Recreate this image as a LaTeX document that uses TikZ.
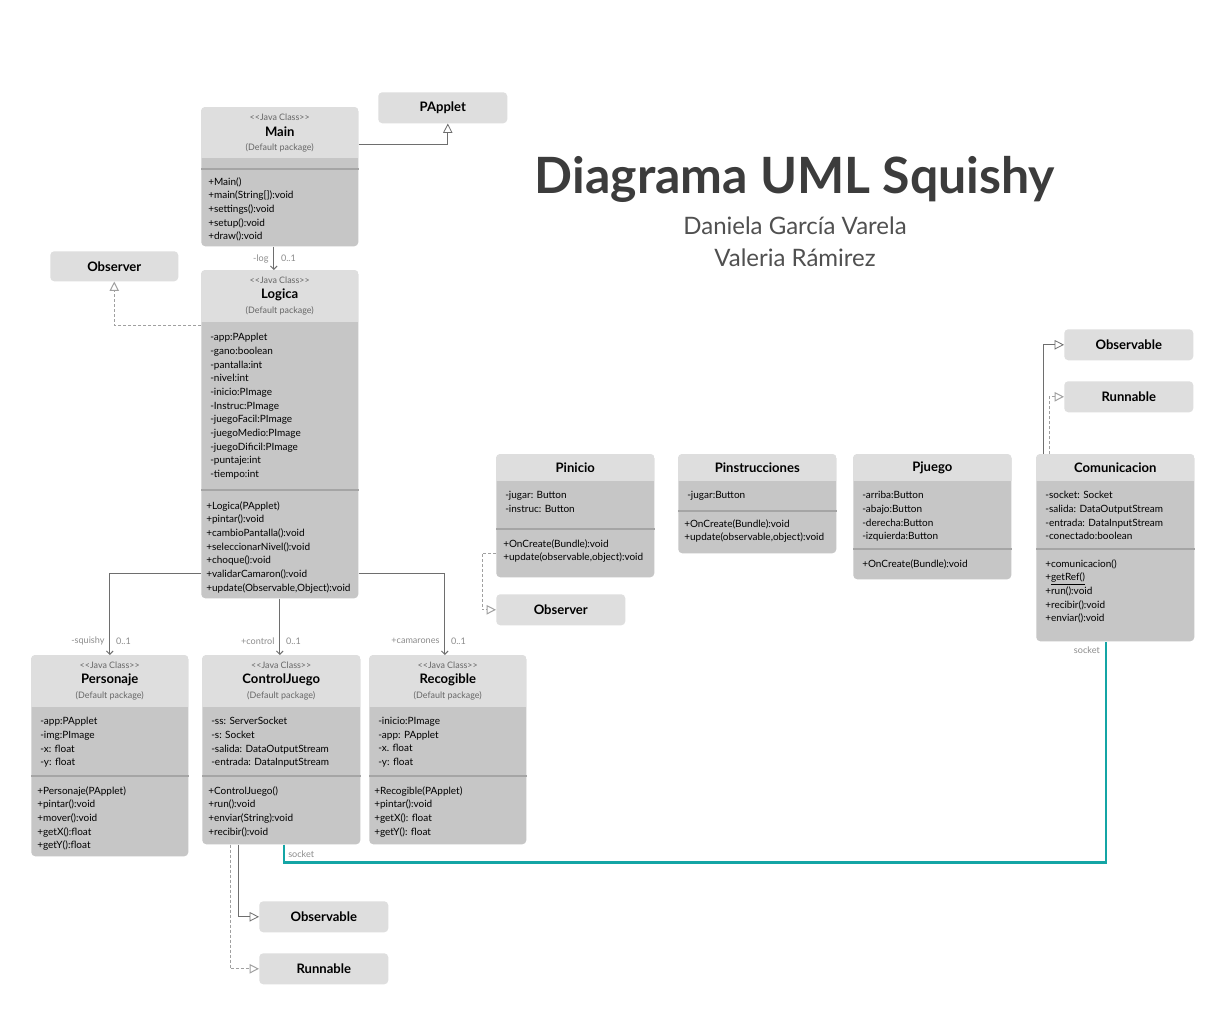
\documentclass[tikz,border=0pt]{standalone}
\usepackage{fontspec}
\setmainfont{Lato}
\usetikzlibrary{arrows.meta,calc}

\definecolor{headgray}{HTML}{DEDEDE}
\definecolor{bodygray}{HTML}{C6C6C6}
\definecolor{rulegray}{HTML}{A5A5A5}
\definecolor{linkgray}{HTML}{6E6E6E}
\definecolor{dashgray}{HTML}{A0A0A0}
\definecolor{labelgray}{HTML}{8C8C8C}
\definecolor{socketteal}{HTML}{14A5A5}
\definecolor{titlegray}{HTML}{3C3C3C}

\newcommand{\pxu}{0.75pt}

% class box: name, x, y, width, height, header height, separator offset
\newcommand{\umlclass}[7]{%
  \node[classbody, minimum width=#4*\pxu, minimum height=#5*\pxu] (#1) at (#2,#3) {};
  \begin{scope}
    \clip[rounded corners=3pt] (#1.north west) rectangle (#1.south east);
    \fill[headgray] (#1.north west) rectangle ($(#1.north east)+(0,#6)$);
  \end{scope}
  \draw[seprule] ($(#1.north west)+(0,#7)$) -- ($(#1.north east)+(0,#7)$);
}
% header with stereotype and package
\newcommand{\javahead}[2]{%
  \node[stereo] (#1-st) at ($(#1.north)+(0,10)$) {<\kern0pt<Java Class>\kern0pt>};
  \node[cname] (#1-t) at ($(#1.north)+(0,25)$) {#2};
  \node[stereo] (#1-pk) at ($(#1.north)+(0,41)$) {(Default package)};
}
\newcommand{\plainhead}[2]{%
  \node[cname] (#1-t) at ($(#1.north)+(0,14)$) {#2};
}

\begin{document}
\begin{tikzpicture}[x=\pxu, y=-\pxu,
    classbody/.style={anchor=north west, fill=bodygray, rounded corners=3pt, inner sep=0pt},
    ifacebox/.style={anchor=north west, fill=headgray, rounded corners=3pt, inner sep=0pt,
      minimum width=129*\pxu, minimum height=31*\pxu, font=\fontsize{9.8}{11}\selectfont\bfseries},
    seprule/.style={rulegray, line width=1.5pt},
    stereo/.style={inner sep=0pt, text=black!60, font=\fontsize{6.7}{8}\selectfont},
    cname/.style={inner sep=0pt, font=\fontsize{9.8}{11}\selectfont\bfseries},
    members/.style={anchor=north west, align=left, inner sep=0pt, font=\fontsize{7.5}{10.27}\selectfont},
    rolelabel/.style={inner sep=0pt, text=labelgray, font=\fontsize{6.8}{8}\selectfont},
    assoc/.style={linkgray, line width=0.75pt, -{Straight Barb[length=2.5pt,width=5pt]}},
    inherit/.style={linkgray, line width=0.6pt, -{Triangle[open,length=7pt,width=7pt]}},
    realize/.style={dashgray, line width=0.75pt, dash pattern=on 2.25pt off 1.5pt,
      -{Triangle[open,length=7pt,width=7pt]}},
    socketlink/.style={socketteal, line width=2pt},
  ]
  \useasboundingbox[fill=white] (0,0) rectangle (1224,1026);

  % title
  \node[text=titlegray, font=\fontsize{37.5}{42}\selectfont\bfseries] (title) at (795,179) {Diagrama UML Squishy};
  \node[text=titlegray!90, font=\fontsize{18}{20}\selectfont] (autor1) at (795,226) {Daniela García Varela};
  \node[text=titlegray!90, font=\fontsize{18}{20}\selectfont] (autor2) at (795,258) {Valeria Rámirez};

  % interfaces and parents
  \node[ifacebox] (papplet) at (378,92) {PApplet};
  \node[ifacebox, minimum width=128*\pxu, minimum height=30*\pxu] (observerA) at (50,251) {Observer};
  \node[ifacebox] (observerB) at (496,594) {Observer};
  \node[ifacebox] (observableA) at (1064,329) {Observable};
  \node[ifacebox] (runnableA) at (1064,381) {Runnable};
  \node[ifacebox] (observableB) at (259,901) {Observable};
  \node[ifacebox] (runnableB) at (259,953) {Runnable};

  % Main
  \umlclass{main}{201}{107}{157}{139}{51}{62}
  \javahead{main}{Main}
  \node[members] (main-me) at ($(main.north west)+(7,70)$) {+Main()\\+main(String[]):void\\+settings():void\\+setup():void\\+draw():void};

  % Logica
  \umlclass{logica}{201}{270}{157}{328}{52}{220}
  \javahead{logica}{Logica}
  \node[members] (logica-at) at ($(logica.north west)+(9,63)$) {-app:PApplet\\-gano:boolean\\-pantalla:int\\-nivel:int\\-inicio:PImage\\-Instruc:PImage\\-juegoFacil:PImage\\-juegoMedio:PImage\\-juegoDificil:PImage\\-puntaje:int\\-tiempo:int};
  \node[members] (logica-me) at ($(logica.north west)+(5,231)$) {+Logica(PApplet)\\+pintar():void\\+cambioPantalla():void\\+seleccionarNivel():void\\+choque():void\\+validarCamaron():void\\+update(Observable,Object):void};

  % Personaje
  \umlclass{personaje}{31}{655}{157}{201}{52}{121}
  \javahead{personaje}{Personaje}
  \node[members] (personaje-at) at ($(personaje.north west)+(9,62)$) {-app:PApplet\\-img:PImage\\-x: float\\-y: float};
  \node[members] (personaje-me) at ($(personaje.north west)+(6,131)$) {+Personaje(PApplet)\\+pintar():void\\+mover():void\\+getX():float\\+getY():float};

  % ControlJuego
  \umlclass{control}{202}{655}{158}{189}{52}{121}
  \javahead{control}{ControlJuego}
  \node[members] (control-at) at ($(control.north west)+(9,62)$) {-ss: ServerSocket\\-s: Socket\\-salida: DataOutputStream\\-entrada: DataInputStream};
  \node[members] (control-me) at ($(control.north west)+(6,131)$) {+ControlJuego()\\+run():void\\+enviar(String):void\\+recibir():void};

  % Recogible
  \umlclass{recogible}{369}{655}{157}{189}{52}{121}
  \javahead{recogible}{Recogible}
  \node[members] (recogible-at) at ($(recogible.north west)+(9,62)$) {-inicio:PImage\\-app: PApplet\\-x. float\\-y: float};
  \node[members] (recogible-me) at ($(recogible.north west)+(5,131)$) {+Recogible(PApplet)\\+pintar():void\\+getX(): float\\+getY(): float};

  % Pinicio
  \umlclass{pinicio}{496}{454}{158}{123}{27}{75}
  \plainhead{pinicio}{Pinicio}
  \node[members] (pinicio-at) at ($(pinicio.north west)+(9,37)$) {-jugar: Button\\-instruc: Button};
  \node[members] (pinicio-me) at ($(pinicio.north west)+(7,85)$) {+OnCreate(Bundle):void\\+update(observable,object):void};

  % Pinstrucciones
  \umlclass{pinstruc}{678}{454}{158}{99}{27}{57}
  \plainhead{pinstruc}{Pinstrucciones}
  \node[members] (pinstruc-at) at ($(pinstruc.north west)+(9,37)$) {-jugar:Button};
  \node[members] (pinstruc-me) at ($(pinstruc.north west)+(6,65)$) {+OnCreate(Bundle):void\\+update(observable,object):void};

  % Pjuego
  \umlclass{pjuego}{853}{454}{158}{125}{27}{95}
  \plainhead{pjuego}{Pjuego}
  \node[members] (pjuego-at) at ($(pjuego.north west)+(9,37)$) {-arriba:Button\\-abajo:Button\\-derecha:Button\\-izquierda:Button};
  \node[members] (pjuego-me) at ($(pjuego.north west)+(9,105)$) {+OnCreate(Bundle):void};

  % Comunicacion
  \umlclass{comunica}{1036}{454}{158}{187}{27}{95}
  \plainhead{comunica}{Comunicacion}
  \node[members] (comunica-at) at ($(comunica.north west)+(9,37)$) {-socket: Socket\\-salida: DataOutputStream\\-entrada: DataInputStream\\-conectado:boolean};
  \node[members] (comunica-me) at ($(comunica.north west)+(9,105)$) {+comunicacion()\\+\underline{getRef()}\\+run():void\\+recibir():void\\+enviar():void};

  % herencia y realizaciones
  \draw[inherit] ($(main.north east)+(0,37)$) -| ($(papplet.south)+(5,0)$);
  \draw[realize] ($(logica.north west)+(0,55)$) -| (observerA.south);
  \draw[realize] ($(pinicio.north west)+(0,99)$) -- ++(-14,0) |- (observerB.west);
  \draw[inherit] ($(comunica.north west)+(7,0)$) |- (observableA.west);
  \draw[realize] ($(comunica.north west)+(13,0)$) |- (runnableA.west);
  \draw[inherit] ($(control.south west)+(36,0)$) |- (observableB.west);
  \draw[realize] ($(control.south west)+(28,0)$) |- (runnableB.west);

  % asociaciones
  \draw[assoc] ($(main.south)+(-6,0)$) coordinate (logend) -- ($(logica.north)+(-6,0)$);
  \node[rolelabel, anchor=east] (log-role) at ($(logend)+(-5,12)$) {-log};
  \node[rolelabel, anchor=west] (log-mult) at ($(logend)+(7,12)$) {0..1};

  \draw[assoc] ($(logica.north west)+(0,303)$) -| (personaje.north);
  \node[rolelabel, anchor=east] (sq-role) at ($(personaje.north)+(-5,-14)$) {-squishy};
  \node[rolelabel, anchor=west] (sq-mult) at ($(personaje.north)+(6,-14)$) {0..1};

  \draw[assoc] (logica.south) -- (logica.south |- control.north);
  \node[rolelabel, anchor=east] (ctl-role) at ($(logica.south |- control.north)+(-5,-14)$) {+control};
  \node[rolelabel, anchor=west] (ctl-mult) at ($(logica.south |- control.north)+(6,-14)$) {0..1};

  \draw[assoc] ($(logica.north east)+(0,303)$) -| ($(recogible.north)+(-3,0)$);
  \node[rolelabel, anchor=east] (cam-role) at ($(recogible.north)+(-8,-14)$) {+camarones};
  \node[rolelabel, anchor=west] (cam-mult) at ($(recogible.north)+(3,-14)$) {0..1};

  % socket
  \draw[socketlink] ($(control.south west)+(82,0)$) coordinate (sockA) -- ++(0,18) -| ($(comunica.south west)+(70,0)$) coordinate (sockB);
  \node[rolelabel, anchor=west] (sockA-lab) at ($(sockA)+(4,10)$) {socket};
  \node[rolelabel, anchor=east] (sockB-lab) at ($(sockB)+(-6,9)$) {socket};
\end{tikzpicture}
\end{document}
